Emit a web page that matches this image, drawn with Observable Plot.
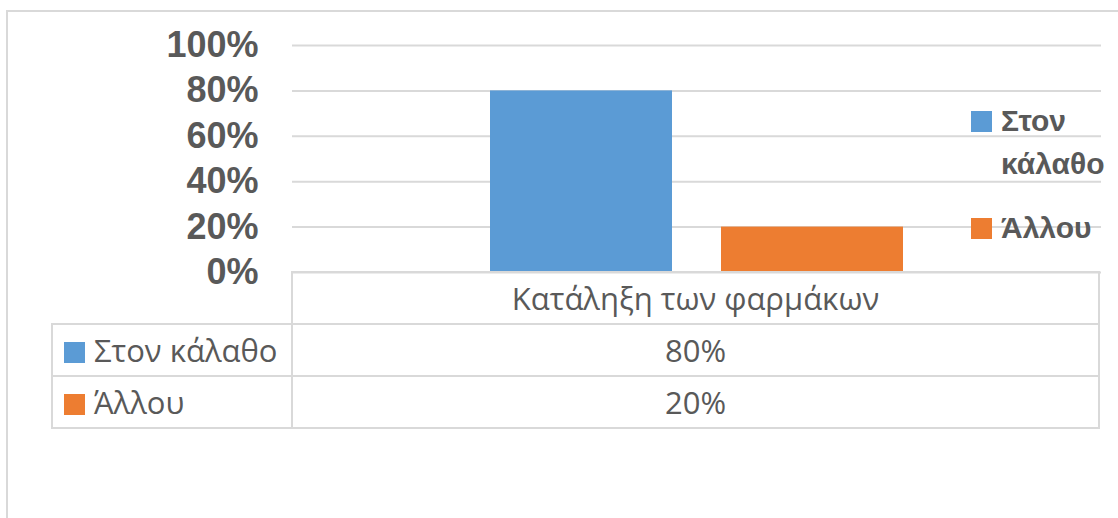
<!DOCTYPE html>
<html>
<head>
<meta charset="utf-8">
<script src="https://cdn.jsdelivr.net/npm/d3@7"></script>
<script src="https://cdn.jsdelivr.net/npm/@observablehq/plot@0.6"></script>
<style>
  html, body { margin: 0; padding: 0; background: #fff; }
  #wrap { position: relative; width: 1118px; height: 518px; overflow: hidden; background: #fff; }
  #wrap svg { position: absolute; left: 0; top: 0; }
  #frame { position: absolute; left: 6px; top: 10px; width: 1300px; height: 700px;
           border-left: 2px solid #d9d9d9; border-top: 2px solid #d9d9d9; pointer-events: none; }
  #legend { position: absolute; left: 971px; top: 0; font-family: "Liberation Sans", Arial, sans-serif;
            font-weight: bold; font-size: 30px; color: #595959; }
  .lg-sw { position: absolute; width: 21px; height: 21px; }
  .lg-tx { position: absolute; left: 30px; width: 118px; line-height: 43px; white-space: normal; }
  #dtable { position: absolute; left: 51px; top: 271px; border-collapse: collapse;
            font-family: "Open Sans", sans-serif; font-size: 31px; color: #595959; }
  #dtable td { border: 2px solid #d9d9d9; height: 50px; padding: 0; }
  #dtable td.blank { border-top: none; border-left: none; }
  #dtable td.lab { width: 238px; text-align: left; white-space: nowrap; }
  #dtable td.val { width: 805px; text-align: center; }
  .sw { display: inline-block; width: 21px; height: 21px; margin-left: 11px; margin-right: 9px; vertical-align: -1px; }
</style>
</head>
<body>
<div id="wrap"></div>
<script>
// ---- data ----
const category = "Κατάληξη των φαρμάκων";
const series = ["Στον κάλαθο", "Άλλου"];
const values = [0.8, 0.2];
const colors = ["#5b9bd5", "#ed7d31"];
const yTicks = [0, 0.2, 0.4, 0.6, 0.8, 1.0];

const rows = series.map((s, i) => ({series: s, value: values[i], category}));
const pct = d3.format(".0%");

const wrap = document.getElementById("wrap");

const chart = Plot.plot({
  width: 1118,
  height: 300,
  marginTop: 45,
  marginBottom: 28,
  marginLeft: 292,
  marginRight: 17,
  style: {background: "transparent", fontFamily: "Liberation Sans, Arial, sans-serif", overflow: "visible"},
  x: {domain: series, paddingInner: 0.212, paddingOuter: 0.857, axis: null},
  y: {domain: [0, 1], axis: null},
  color: {domain: series, range: colors},
  marks: [
    Plot.ruleY(yTicks, {stroke: "#d9d9d9", strokeWidth: 2}),
    Plot.barY(rows, {x: "series", y: "value", fill: "series"}),
    Plot.axisY({ticks: yTicks, tickFormat: pct, tickSize: 0, tickPadding: 34,
                fontSize: 36, fontWeight: "bold", fill: "#595959", label: null})
  ]
});
wrap.appendChild(chart);

// chart outer border
const frame = document.createElement("div");
frame.id = "frame";
wrap.appendChild(frame);

// legend
const legend = document.createElement("div");
legend.id = "legend";
const legendTops = [111, 218];
series.forEach((s, i) => {
  const sw = document.createElement("div");
  sw.className = "lg-sw";
  sw.style.left = "0px";
  sw.style.top = legendTops[i] + "px";
  sw.style.background = colors[i];
  legend.appendChild(sw);
  const tx = document.createElement("div");
  tx.className = "lg-tx";
  tx.style.top = (legendTops[i] - 12) + "px";
  tx.textContent = s;
  legend.appendChild(tx);
});
wrap.appendChild(legend);

// data table
const table = document.createElement("table");
table.id = "dtable";
const hr = table.insertRow();
const hb = hr.insertCell(); hb.className = "lab blank";
const hc = hr.insertCell(); hc.className = "val"; hc.textContent = category;
series.forEach((s, i) => {
  const r = table.insertRow();
  const l = r.insertCell(); l.className = "lab";
  const sw = document.createElement("span"); sw.className = "sw"; sw.style.background = colors[i];
  l.appendChild(sw);
  l.appendChild(document.createTextNode(s));
  const v = r.insertCell(); v.className = "val"; v.textContent = pct(values[i]);
});
wrap.appendChild(table);
</script>
</body>
</html>
